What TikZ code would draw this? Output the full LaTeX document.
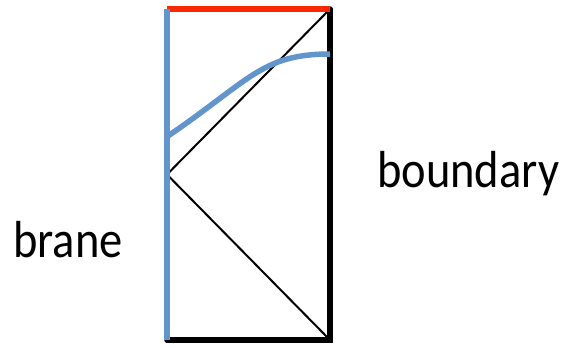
\documentclass[tikz,border=0pt]{standalone}
\usepackage{fontspec}
\setmainfont{Carlito}
\usepackage{tikz}
\definecolor{braneblue}{RGB}{98,149,204}
\definecolor{edgered}{RGB}{250,40,0}
\tikzset{label text/.style={inner sep=0pt, anchor=base west, yscale=1.12, transform shape, font=\fontsize{46.5}{54}\selectfont}}

\begin{document}
\begin{tikzpicture}[x=1pt, y=-1pt]
    \useasboundingbox (0,0) rectangle (565,348);
    \coordinate (TL) at (167,9); \coordinate (TR) at (330,9);
    \coordinate (BL) at (167,340); \coordinate (BR) at (330,340);
    \coordinate (V) at (167,174.5);

    \draw[line width=2pt] (TR) -- (V) -- (BR);
    \draw[line width=5.5pt, line cap=round] (TR) -- (BR) -- (BL);
    \draw[line width=5.5pt, edgered] (TL) -- (TR);
    \draw[line width=5.5pt, braneblue] (BL) -- (TL);
    \draw[line width=5.5pt, braneblue] (168,136) .. controls (250,80) and (262,54) .. (330,54);

    \node[label text] (boundary) at (377,187) {boundary};
    \node[label text] (brane) at (13,257) {brane};
\end{tikzpicture}
\end{document}
